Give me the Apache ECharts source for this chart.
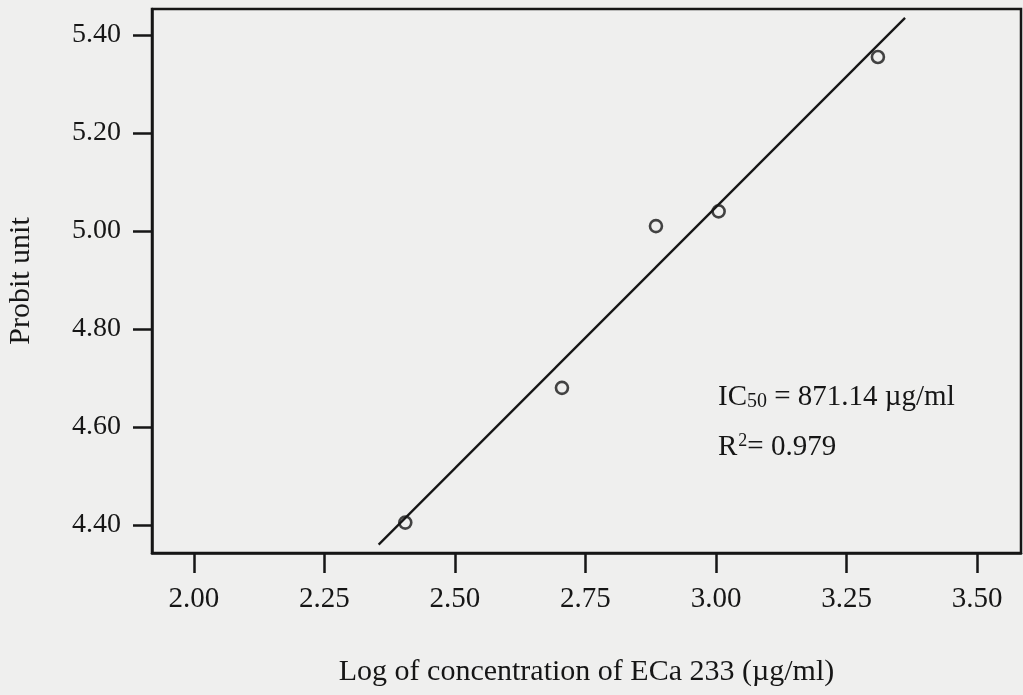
<!DOCTYPE html>
<html>
<head>
<meta charset="utf-8">
<script src="https://cdn.jsdelivr.net/npm/echarts@6/dist/echarts.min.js"></script>
<style>
  html, body { margin: 0; padding: 0; background: #efefee; }
  #chart { width: 1023px; height: 695px; }
</style>
</head>
<body>
<div id="chart"></div>
<script>
// observed points (log conc, probit)
const logConc = [2.405, 2.705, 2.885, 3.005, 3.31];
const probit = [4.405, 4.68, 5.01, 5.04, 5.355];
// fitted line end points
const fitX = [2.354, 3.362];
const fitY = [4.36, 5.435];
const xTicks = [2.00, 2.25, 2.50, 2.75, 3.00, 3.25, 3.50];
const yTicks = [4.40, 4.60, 4.80, 5.00, 5.20, 5.40];

const font = '"Liberation Serif", "Times New Roman", serif';
const ink = '#161616';

const chart = echarts.init(document.getElementById('chart'));

chart.setOption({
  backgroundColor: '#efefee',
  animation: false,
  grid: {
    left: 152, right: 2, top: 9, bottom: 142,
    outerBoundsMode: 'none',
    containLabel: false,
    show: true, borderColor: ink, borderWidth: 2.5,
    backgroundColor: 'transparent'
  },
  xAxis: {
    type: 'value',
    min: 1.92, max: 3.584,
    name: 'Log of concentration of ECa 233 (µg/ml)',
    nameLocation: 'middle',
    nameGap: 104,
    nameTextStyle: { fontFamily: font, fontSize: 30, color: ink },
    axisLine: { show: true, lineStyle: { color: ink, width: 2.5 } },
    axisTick: { show: true, length: 20, lineStyle: { color: ink, width: 2.5 }, customValues: xTicks },
    axisLabel: {
      customValues: xTicks,
      margin: 32,
      fontFamily: font, fontSize: 29, color: ink,
      formatter: v => v.toFixed(2)
    },
    splitLine: { show: false }
  },
  yAxis: {
    type: 'value',
    min: 4.343, max: 5.453,
    name: 'Probit unit',
    nameLocation: 'middle',
    nameGap: 116,
    nameTextStyle: { fontFamily: font, fontSize: 30, color: ink },
    axisLine: { show: true, lineStyle: { color: ink, width: 2.5 } },
    axisTick: { show: true, length: 19, lineStyle: { color: ink, width: 2.5 }, customValues: yTicks },
    axisLabel: {
      customValues: yTicks,
      margin: 31,
      fontFamily: font, fontSize: 28, color: ink,
      formatter: v => v.toFixed(2)
    },
    splitLine: { show: false }
  },
  series: [
    {
      type: 'line',
      data: fitX.map((x, i) => [x, fitY[i]]),
      showSymbol: false,
      lineStyle: { color: ink, width: 2.3 },
      z: 2
    },
    {
      type: 'scatter',
      data: logConc.map((x, i) => [x, probit[i]]),
      symbol: 'circle',
      symbolSize: 12,
      itemStyle: { color: 'rgba(0,0,0,0)', borderColor: ink, borderWidth: 2.6 },
      z: 3
    }
  ],
  graphic: [
    {
      type: 'text',
      left: 718, top: 383,
      style: {
        text: 'IC{sub|50} = 871.14 µg/ml',
        font: '29px ' + font,
        fill: ink,
        rich: {
          sub: { fontSize: 20, fontFamily: font, fill: ink, verticalAlign: 'bottom', padding: [9, 0, 0, 0] }
        }
      }
    },
    {
      type: 'text',
      left: 718, top: 432,
      style: {
        text: 'R{sup|2}= 0.979',
        font: '29px ' + font,
        fill: ink,
        rich: {
          sup: { fontSize: 18, fontFamily: font, fill: ink, verticalAlign: 'top', padding: [0, 0, 13, 1] }
        }
      }
    }
  ]
});
</script>
</body>
</html>
